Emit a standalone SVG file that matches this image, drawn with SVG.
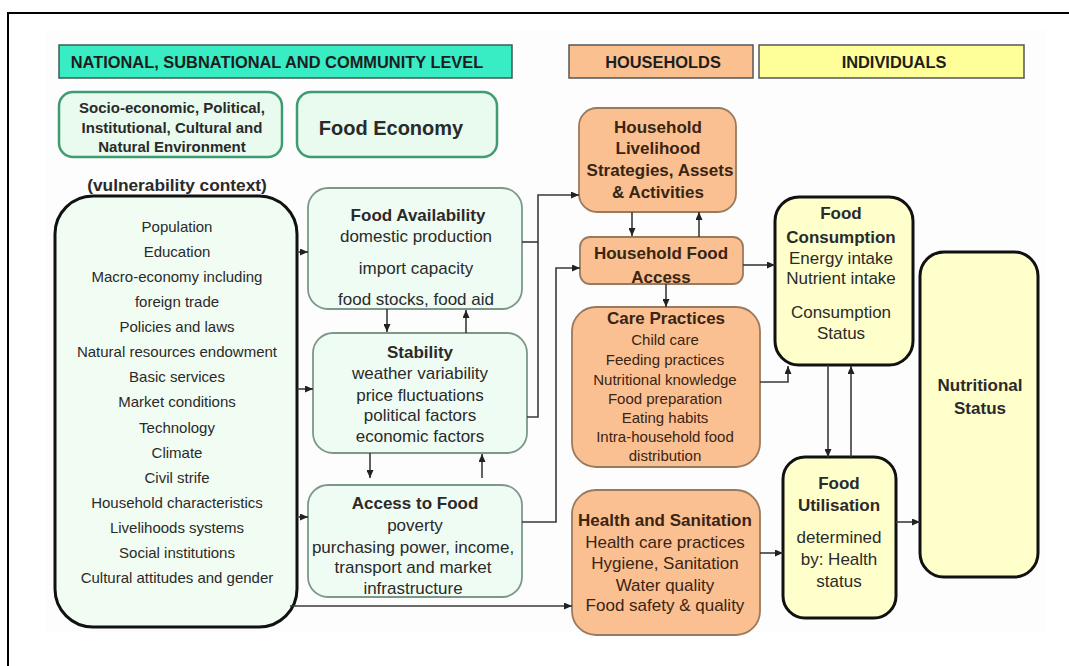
<svg xmlns="http://www.w3.org/2000/svg" width="1069" height="666" viewBox="0 0 1069 666">
  <defs>
    <marker id="arrow" viewBox="0 0 8 7" refX="8" refY="3.5" markerWidth="8" markerHeight="7" markerUnits="userSpaceOnUse" orient="auto">
      <path d="M0,0 L8,3.5 L0,7 z" fill="#222"/>
    </marker>
    <style>
      text { font-family: "Liberation Sans", Arial, sans-serif; text-anchor: middle; fill: #2a2a2a; }
      .b { font-weight: bold; }
      .hdr { font-size: 16.4px; font-weight: bold; fill: #1e1e1e; }
      .ctx { fill: #e9fbee; stroke: #3f9c70; stroke-width: 2.5; }
      .mid { fill: #effcf3; stroke: #7d9888; stroke-width: 1.8; }
      .vul { fill: #f1fcf3; stroke: #111; stroke-width: 3; }
      .hh { fill: #fac092; stroke: #9a7a5e; stroke-width: 1.8; }
      .ind { fill: #ffffcc; stroke: #111; stroke-width: 3; }
      .hh-t text { fill: #3a2412; }
      .list { font-size: 15px; }
      .t17 { font-size: 17px; }
      .t15 { font-size: 15px; }
      #connectors path { fill: none; stroke: #3a3a3a; stroke-width: 1.6; }
      #connectors .arr { marker-end: url(#arrow); }
    </style>
  </defs>

  <!-- page frame and faint backdrop -->
  <rect x="0" y="0" width="1069" height="666" fill="#ffffff"/>
  <rect x="8" y="13" width="1080" height="700" fill="none" stroke="#000" stroke-width="2"/>
  <rect x="45" y="30" width="1000" height="602" fill="#fdfdfd"/>

  <!-- level headers -->
  <g id="hdr-national">
    <rect x="59" y="45" width="453" height="33" fill="#38ecc4" stroke="#3d5c52" stroke-width="1.5"/>
    <text class="hdr" x="277" y="68">NATIONAL, SUBNATIONAL AND COMMUNITY LEVEL</text>
  </g>
  <g id="hdr-households">
    <rect x="569" y="45" width="184" height="33" fill="#fac090" stroke="#555" stroke-width="1.5"/>
    <text class="hdr" x="663" y="68">HOUSEHOLDS</text>
  </g>
  <g id="hdr-individuals">
    <rect x="759" y="45" width="265" height="33" fill="#ffff99" stroke="#555" stroke-width="1.5"/>
    <text class="hdr" x="894" y="68">INDIVIDUALS</text>
  </g>

  <!-- context boxes -->
  <g id="environment">
    <rect class="ctx" x="59" y="92" width="223" height="65" rx="14"/>
    <text class="b t15" x="172" y="113">Socio-economic, Political,</text>
    <text class="b t15" x="172" y="133">Institutional, Cultural and</text>
    <text class="b t15" x="172" y="152">Natural Environment</text>
  </g>
  <g id="food-economy">
    <rect class="ctx" x="297" y="92" width="200" height="65" rx="14"/>
    <text class="b" x="391" y="135" font-size="20">Food Economy</text>
  </g>

  <!-- vulnerability context -->
  <g id="vulnerability">
    <text class="b" x="177" y="191" font-size="17.3">(vulnerability context)</text>
    <rect class="vul" x="55" y="196" width="242" height="431" rx="38"/>
    <g class="list">
      <text x="177" y="232">Population</text>
      <text x="177" y="257">Education</text>
      <text x="177" y="282">Macro-economy including</text>
      <text x="177" y="307">foreign trade</text>
      <text x="177" y="332">Policies and laws</text>
      <text x="177" y="357">Natural resources endowment</text>
      <text x="177" y="382">Basic services</text>
      <text x="177" y="407">Market conditions</text>
      <text x="177" y="433">Technology</text>
      <text x="177" y="458">Climate</text>
      <text x="177" y="483">Civil strife</text>
      <text x="177" y="508">Household characteristics</text>
      <text x="177" y="533">Livelihoods systems</text>
      <text x="177" y="558">Social institutions</text>
      <text x="177" y="583">Cultural attitudes and gender</text>
    </g>
  </g>

  <!-- food security pillars -->
  <g id="food-availability" class="t17">
    <rect class="mid" x="308" y="188" width="214" height="121" rx="20"/>
    <text class="b" x="418" y="221">Food Availability</text>
    <text x="416" y="242">domestic production</text>
    <text x="416" y="274">import capacity</text>
    <text x="416" y="305">food stocks, food aid</text>
  </g>
  <g id="stability" class="t17">
    <rect class="mid" x="313" y="333" width="214" height="120" rx="20"/>
    <text class="b" x="420" y="358">Stability</text>
    <text x="420" y="379">weather variability</text>
    <text x="420" y="401">price fluctuations</text>
    <text x="420" y="421">political factors</text>
    <text x="420" y="442">economic factors</text>
  </g>
  <g id="access-to-food" class="t17">
    <rect class="mid" x="308" y="485" width="214" height="112" rx="20"/>
    <text class="b" x="415" y="509">Access to Food</text>
    <text x="415" y="531">poverty</text>
    <text x="413" y="553">purchasing power, income,</text>
    <text x="413" y="573">transport and market</text>
    <text x="413" y="594">infrastructure</text>
  </g>

  <!-- household level -->
  <g id="livelihood" class="hh-t t17">
    <rect class="hh" x="579" y="108" width="157" height="104" rx="18"/>
    <text class="b" x="658" y="133">Household</text>
    <text class="b" x="658" y="154">Livelihood</text>
    <text class="b" x="660" y="176">Strategies, Assets</text>
    <text class="b" x="658" y="198">&amp; Activities</text>
  </g>
  <g id="hh-food-access" class="hh-t t17">
    <rect class="hh" x="580" y="237" width="163" height="47" rx="10"/>
    <text class="b" x="661" y="259">Household Food</text>
    <text class="b" x="661" y="283">Access</text>
  </g>
  <g id="care-practices" class="hh-t t15">
    <rect class="hh" x="572" y="307" width="188" height="160" rx="24"/>
    <text class="b t17" x="666" y="324">Care Practices</text>
    <text x="665" y="345">Child care</text>
    <text x="665" y="365">Feeding practices</text>
    <text x="665" y="385">Nutritional knowledge</text>
    <text x="665" y="404">Food preparation</text>
    <text x="665" y="423">Eating habits</text>
    <text x="665" y="442">Intra-household food</text>
    <text x="665" y="461">distribution</text>
  </g>
  <g id="health-sanitation" class="hh-t t17">
    <rect class="hh" x="572" y="490" width="188" height="145" rx="24"/>
    <text class="b" x="665" y="526">Health and Sanitation</text>
    <text x="665" y="548">Health care practices</text>
    <text x="665" y="569">Hygiene, Sanitation</text>
    <text x="665" y="591">Water quality</text>
    <text x="665" y="611">Food safety &amp; quality</text>
  </g>

  <!-- individual level -->
  <g id="food-consumption" class="t17">
    <rect class="ind" x="775" y="197" width="138" height="168" rx="24"/>
    <text class="b" x="841" y="219">Food</text>
    <text class="b" x="841" y="243">Consumption</text>
    <text x="841" y="264">Energy intake</text>
    <text x="841" y="284">Nutrient intake</text>
    <text x="841" y="318">Consumption</text>
    <text x="841" y="339">Status</text>
  </g>
  <g id="food-utilisation" class="t17">
    <rect class="ind" x="783" y="457" width="113" height="161" rx="22"/>
    <text class="b" x="839" y="489">Food</text>
    <text class="b" x="839" y="511">Utilisation</text>
    <text x="839" y="543">determined</text>
    <text x="839" y="565">by: Health</text>
    <text x="839" y="587">status</text>
  </g>
  <g id="nutritional-status" class="t17">
    <rect class="ind" x="920" y="252" width="118" height="325" rx="24"/>
    <text class="b" x="980" y="391">Nutritional</text>
    <text class="b" x="980" y="414">Status</text>
  </g>

  <!-- connectors -->
  <g id="connectors">
    <path class="arr" d="M297,252 H308"/>
    <path class="arr" d="M297,389 H313"/>
    <path class="arr" d="M297,517 H308"/>
    <path class="arr" d="M290,606 H572"/>

    <path d="M522,242 H538"/>
    <path class="arr" d="M527,417 H538 V195 H579"/>
    <path class="arr" d="M522,522 H556 V268 H580"/>

    <path class="arr" d="M387,309 V332"/>
    <path class="arr" d="M466,333 V310"/>
    <path class="arr" d="M370,453 V478"/>
    <path class="arr" d="M482,478 V454"/>

    <path class="arr" d="M632,212 V236"/>
    <path class="arr" d="M699,237 V212"/>
    <path class="arr" d="M743,265 H775"/>
    <path class="arr" d="M666,284 V307"/>
    <path class="arr" d="M760,382 H788 V366"/>
    <path class="arr" d="M760,553 H783"/>

    <path class="arr" d="M828,365 V457"/>
    <path class="arr" d="M851,457 V366"/>
    <path class="arr" d="M896,522 H920"/>
  </g>
</svg>
